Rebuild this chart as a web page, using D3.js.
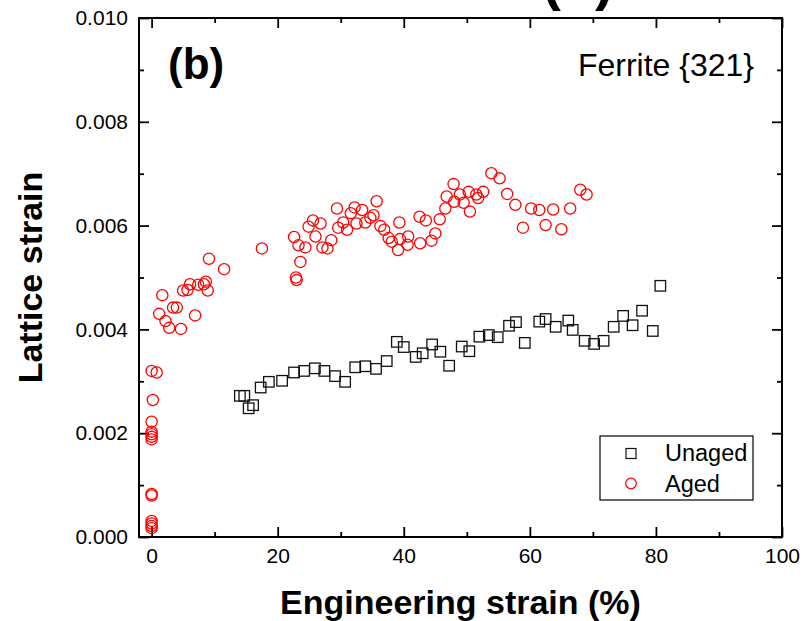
<!DOCTYPE html>
<html>
<head>
<meta charset="utf-8">
<script src="https://cdn.jsdelivr.net/npm/d3@7"></script>
<style>
  body { margin: 0; background: #fff; }
  svg { display: block; font-family: Arial, "Liberation Sans", sans-serif; }
</style>
</head>
<body>
<svg id="chart" width="804" height="621"></svg>
<script>
// ---- data ----
const unagedX = [14.0,14.7,15.4,16.1,17.3,18.6,20.7,22.6,24.2,25.9,27.4,29.1,30.7,32.3,33.9,35.6,37.3,38.9,40.0,41.9,43.0,44.5,45.8,47.2,49.2,50.4,52.0,53.5,54.9,56.7,57.8,59.2,61.5,62.5,64.1,66.1,66.8,68.7,70.2,71.7,73.3,74.8,76.3,77.8,79.5,80.7];
const unagedY = [0.00272,0.00272,0.00248,0.00254,0.00288,0.00299,0.00301,0.00317,0.00320,0.00325,0.00320,0.00310,0.00299,0.00327,0.00329,0.00324,0.00339,0.00376,0.00366,0.00347,0.00354,0.00371,0.00357,0.00330,0.00367,0.00358,0.00386,0.00389,0.00385,0.00407,0.00414,0.00374,0.00415,0.00420,0.00405,0.00417,0.00399,0.00378,0.00372,0.00378,0.00405,0.00426,0.00408,0.00436,0.00397,0.00484];

const agedX = [0.0,0.8,0.2,0.0,0.0,0.0,0.0,0.0,0.0,0.0,0.0,0.0,0.0,0.0,
  1.7,1.2,2.2,2.8,4.65,3.4,4.0,6.9,5.0,5.7,6.1,7.4,8.6,8.3,8.9,9.1,11.5,
  17.5,22.6,23.3,24.4,23.6,22.9,23.0,24.9,25.6,26.8,26.0,27.1,27.9,28.5,29.4,29.6,30.4,31.0,31.6,32.2,32.5,33.4,33.9,34.7,35.2,35.7,36.3,36.9,37.6,38.1,39.3,39.4,39.1,40.7,40.6,42.5,42.6,
  43.5,44.4,45.0,45.7,46.6,46.8,47.9,48.0,48.9,49.5,50.3,50.5,51.5,51.8,52.6,53.9,55.2,56.4,57.7,58.9,60.2,61.5,62.5,63.7,65.0,66.4,68.0,69.0];
const agedY = [0.00320,0.00317,0.00264,0.00222,0.00203,0.00198,0.00193,0.00188,0.00083,0.00080,0.00031,0.00026,0.00021,0.00017,
  0.00466,0.00430,0.00416,0.00403,0.00401,0.00442,0.00442,0.00427,0.00475,0.00476,0.00487,0.00486,0.00492,0.00487,0.00475,0.00536,0.00516,
  0.00556,0.00578,0.00562,0.00558,0.00530,0.00500,0.00495,0.00598,0.00610,0.00604,0.00579,0.00558,0.00556,0.00572,0.00633,0.00596,0.00606,0.00592,0.00624,0.00635,0.00604,0.00630,0.00606,0.00615,0.00620,0.00647,0.00599,0.00592,0.00576,0.00569,0.00606,0.00574,0.00553,0.00579,0.00563,0.00617,0.00566,
  0.00610,0.00571,0.00585,0.00612,0.00633,0.00656,0.00680,0.00646,0.00660,0.00644,0.00665,0.00627,0.00660,0.00653,0.00665,0.00701,0.00691,0.00661,0.00640,0.00596,0.00633,0.00630,0.00601,0.00631,0.00593,0.00633,0.00669,0.00660];

const xMajor = [0,20,40,60,80,100];
const xMinor = [10,30,50,70,90];
const yMajor = [0,0.002,0.004,0.006,0.008,0.010];
const yMinor = [0.001,0.003,0.005,0.007,0.009];
const seriesNames = ["Unaged","Aged"];

// ---- layout ----
const svg = d3.select("#chart");
const L = 139, R = 782, T = 18, B = 537;
const x = d3.scaleLinear().domain([-2,100]).range([L,R]);
const y = d3.scaleLinear().domain([0,0.010]).range([B,T]);

// title of the figure, cut off by the top edge as in the reference
svg.append("text").attr("x",578).attr("y",-1).attr("text-anchor","middle")
  .attr("font-weight","bold").attr("font-size",56).text("(b)");

function styleAxis(g){
  g.select(".domain").remove();
  g.selectAll("line").attr("stroke","#000").attr("stroke-width",1.8);
  g.selectAll("text").attr("font-size",21).attr("fill","#000").attr("font-family","Arial, 'Liberation Sans', sans-serif");
}

// bottom axis
svg.append("g").attr("transform",`translate(0,${B})`)
  .call(d3.axisBottom(x).tickValues(xMajor).tickSizeInner(-10).tickSizeOuter(0).tickPadding(11).tickFormat(d3.format("d")))
  .call(styleAxis);
svg.append("g").attr("transform",`translate(0,${B})`)
  .call(d3.axisBottom(x).tickValues(xMinor).tickSizeInner(-5).tickSizeOuter(0).tickFormat(""))
  .call(styleAxis);
// top axis
svg.append("g").attr("transform",`translate(0,${T})`)
  .call(d3.axisTop(x).tickValues(xMajor).tickSizeInner(-10).tickSizeOuter(0).tickFormat(""))
  .call(styleAxis);
svg.append("g").attr("transform",`translate(0,${T})`)
  .call(d3.axisTop(x).tickValues(xMinor).tickSizeInner(-5).tickSizeOuter(0).tickFormat(""))
  .call(styleAxis);
// left axis
svg.append("g").attr("transform",`translate(${L},0)`)
  .call(d3.axisLeft(y).tickValues(yMajor).tickSizeInner(-10).tickSizeOuter(0).tickPadding(11).tickFormat(d3.format(".3f")))
  .call(styleAxis);
svg.append("g").attr("transform",`translate(${L},0)`)
  .call(d3.axisLeft(y).tickValues(yMinor).tickSizeInner(-5).tickSizeOuter(0).tickFormat(""))
  .call(styleAxis);
// right axis
svg.append("g").attr("transform",`translate(${R},0)`)
  .call(d3.axisRight(y).tickValues(yMajor).tickSizeInner(-10).tickSizeOuter(0).tickFormat(""))
  .call(styleAxis);
svg.append("g").attr("transform",`translate(${R},0)`)
  .call(d3.axisRight(y).tickValues(yMinor).tickSizeInner(-5).tickSizeOuter(0).tickFormat(""))
  .call(styleAxis);

// frame
svg.append("rect").attr("x",L).attr("y",T).attr("width",R-L).attr("height",B-T)
  .attr("fill","none").attr("stroke","#000").attr("stroke-width",2);

// data
const sq = 10.5;
svg.append("g").selectAll("rect").data(d3.range(unagedX.length)).join("rect")
  .attr("x",i=>x(unagedX[i])-sq/2).attr("y",i=>y(unagedY[i])-sq/2)
  .attr("width",sq).attr("height",sq)
  .attr("fill","none").attr("stroke","#111").attr("stroke-width",1.3);

svg.append("g").selectAll("circle").data(d3.range(agedX.length)).join("circle")
  .attr("cx",i=>x(agedX[i])).attr("cy",i=>y(agedY[i])).attr("r",5.6)
  .attr("fill","none").attr("stroke","#ff0000").attr("stroke-width",1.3);

// annotations
svg.append("text").attr("x",168).attr("y",79).attr("font-weight","bold").attr("font-size",44).text("(b)");
svg.append("text").attr("x",754).attr("y",76).attr("text-anchor","end").attr("font-size",32).text("Ferrite {321}");

// axis titles
svg.append("text").attr("x",(L+R)/2).attr("y",614).attr("text-anchor","middle")
  .attr("font-weight","bold").attr("font-size",34).text("Engineering strain (%)");
svg.append("text").attr("transform",`translate(42,${(T+B)/2}) rotate(-90)`).attr("text-anchor","middle")
  .attr("font-weight","bold").attr("font-size",34).text("Lattice strain");

// legend
const lg = svg.append("g");
lg.append("rect").attr("x",600).attr("y",436).attr("width",153).attr("height",64)
  .attr("fill","#fff").attr("stroke","#000").attr("stroke-width",1.2);
lg.append("rect").attr("x",631-5).attr("y",453.5-5).attr("width",10).attr("height",10)
  .attr("fill","none").attr("stroke","#111").attr("stroke-width",1.2);
lg.append("circle").attr("cx",631).attr("cy",483.5).attr("r",5.3)
  .attr("fill","none").attr("stroke","#ff0000").attr("stroke-width",1.2);
lg.append("text").attr("x",665).attr("y",461).attr("font-size",23.5).text(seriesNames[0]);
lg.append("text").attr("x",665).attr("y",492).attr("font-size",23.5).text(seriesNames[1]);
</script>
</body>
</html>
